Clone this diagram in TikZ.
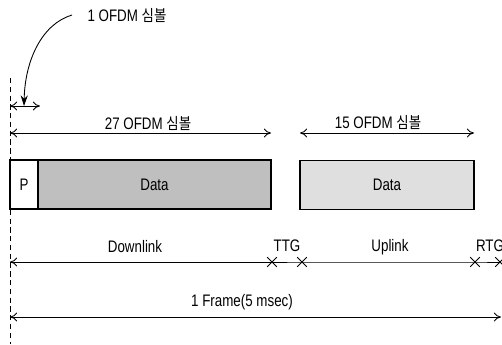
\documentclass[tikz,border=0pt]{standalone}
\usepackage{fontspec}
\setmainfont{Liberation Sans}[FakeStretch=0.8]
\newfontfamily\kofont{Noto Sans CJK KR}[FakeStretch=0.85]
\usepackage{tikz}
\usetikzlibrary{arrows.meta,shapes.misc}

\begin{document}
\begin{tikzpicture}[x=0.02cm, y=-0.02cm, >={To[length=4pt,width=5pt]}, line width=0.5pt,
    every node/.style={font=\fontsize{9.5}{11}\selectfont},
    xmark/.style={draw, cross out, inner sep=0pt, minimum size=5pt, line width=0.5pt},
    slot/.style={draw, line width=0.6pt, minimum height=0.98cm, inner sep=0pt}]
  \useasboundingbox (0,0) rectangle (502,344);

  % frame start line
  \coordinate (top) at (10,78);
  \coordinate (bot) at (10,344);
  \draw[densely dashed] (top) -- (bot);

  % one symbol
  \node (onesym) at (127,16) {1 OFDM {\kofont\small 심볼}};
  \coordinate (crvfrom) at (72,15);
  \coordinate (crvto) at (24,106);
  \coordinate (s0) at (10,106);
  \coordinate (s1) at (40,106);
  \draw[<->] (s0) -- (s1);
  \draw[-{Stealth[length=6pt,width=4pt]}] (crvfrom) .. controls (42,24) and (25,60) .. (crvto);

  % symbol counts
  \node (dlsym) at (148,124) {27 OFDM {\kofont\small 심볼}};
  \node (ulsym) at (378,123) {15 OFDM {\kofont\small 심볼}};
  \coordinate (d0) at (10,133);
  \coordinate (d1) at (271,133);
  \coordinate (u0) at (300,133);
  \coordinate (u1) at (474,133);
  \draw[<->] (d0) -- (d1);
  \draw[<->] (u0) -- (u1);

  % bursts
  \node[slot, fill=white, minimum width=0.56cm] (pre) at (24,184.5) {P};
  \node[slot, fill=gray!50, minimum width=4.66cm] (dldata) at (154.5,184.5) {Data};
  \node[slot, fill=gray!25, minimum width=3.48cm] (uldata) at (387,185) {Data};

  % downlink / uplink
  \coordinate (l0) at (10,262);
  \node[xmark] (ttga) at (272,262) {};
  \node[xmark] (ttgb) at (302,262) {};
  \node[xmark] (rtga) at (475,262) {};
  \node[xmark] (rtgb) at (500,262) {};
  \draw[<-] (l0) -- (ttga.center);
  \draw (ttga.center) -- (ttgb.center) -- (rtga.center) -- (rtgb.center);
  \node (dl) at (135,247) {Downlink};
  \node (ttg) at (287,246) {TTG};
  \node (ul) at (390,247) {Uplink};
  \node (rtg) at (490,246) {RTG};

  % whole frame
  \coordinate (f0) at (10,317);
  \coordinate (f1) at (501,317);
  \draw[<->] (f0) -- (f1);
  \node (frame) at (242,302) {1 Frame(5 msec)};
\end{tikzpicture}
\end{document}
